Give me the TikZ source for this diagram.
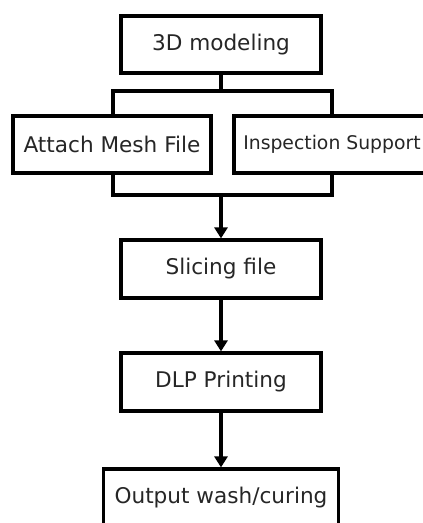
\documentclass[tikz,border=0pt]{standalone}
\usepackage{fontspec}
\setmainfont{DejaVu Sans}
\usetikzlibrary{arrows.meta}
\begin{document}
\begin{tikzpicture}[x=1pt,y=-1pt,
  box/.style={draw=black,line width=3.2pt,inner sep=0pt,minimum height=57pt,
    font=\fontsize{21.6}{25}\selectfont,text=black!85},
  conn/.style={line width=3.2pt,draw=black},
  arr/.style={conn,-{Triangle[width=13pt,length=11pt]}}]
\useasboundingbox (0,0) rectangle (423,523);
\clip (0,0) rectangle (423,523);
\fill[white] (0,0) rectangle (423,523);
\node[box,minimum width=200pt] (m) at (221,44.5) {3D modeling};
\node[box,minimum width=198pt] (a) at (112,144.5) {Attach Mesh File};
\node[box,minimum width=196pt,font=\fontsize{18.8}{22}\selectfont] (s) at (332,144.5) {Inspection Support};
\node[box,minimum width=200pt,minimum height=58pt] (sl) at (221,269) {Slicing file};
\node[box,minimum width=200pt,minimum height=58pt] (d) at (221,382) {DLP Printing};
\node[box,minimum width=235pt,minimum height=58pt] (o) at (221,498) {Output wash/curing};
\coordinate (tl) at (113,91);
\coordinate (tr) at (332,91);
\coordinate (bl) at (113,195);
\coordinate (br) at (332,195);
\coordinate (bm) at (221,195);
\draw[conn] (m.south) -- (m.south |- tl);
\draw[conn] (a.north -| tl) -- (tl) -- (tr) -- (s.north -| tr);
\draw[conn] (a.south -| bl) -- (bl) -- (br) -- (s.south -| br);
\draw[arr] (bm) -- (sl.north);
\draw[arr] (sl.south) -- (d.north);
\draw[arr] (d.south) -- (o.north);
\end{tikzpicture}
\end{document}
